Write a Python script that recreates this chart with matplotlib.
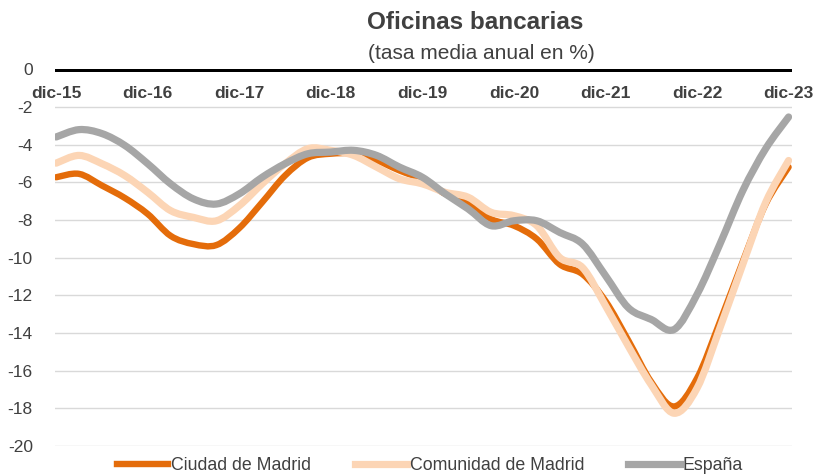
import numpy as np
import matplotlib
matplotlib.use("Agg")
import matplotlib.pyplot as plt
from matplotlib.path import Path
from matplotlib.patches import PathPatch
from matplotlib.lines import Line2D

# quarterly values, dic-15 .. dic-23
years = ["dic-15", "dic-16", "dic-17", "dic-18", "dic-19", "dic-20", "dic-21", "dic-22", "dic-23"]
ciudad = [-5.73, -5.55, -6.17, -6.83, -7.68, -8.84, -9.28, -9.33, -8.43,
          -7.06, -5.64, -4.69, -4.48, -4.48, -4.84, -5.37, -5.85,
          -6.61, -7.06, -7.95, -8.30, -9.01, -10.35, -10.88, -12.30,
          -14.40, -16.60, -17.90, -16.40, -13.40, -10.20, -7.15, -5.19]
comunidad = [-4.98, -4.57, -5.01, -5.64, -6.53, -7.50, -7.86, -8.04, -7.24,
             -6.08, -5.01, -4.21, -4.30, -4.57, -5.19, -5.81, -6.08,
             -6.53, -6.79, -7.59, -7.77, -8.30, -9.99, -10.53, -12.55,
             -14.70, -16.75, -18.26, -16.93, -13.73, -10.35, -7.06, -4.84]
espana = [-3.59, -3.20, -3.41, -4.04, -5.01, -6.08, -6.88, -7.15, -6.61,
          -5.73, -5.01, -4.48, -4.39, -4.30, -4.57, -5.19, -5.73,
          -6.61, -7.41, -8.30, -8.04, -8.04, -8.66, -9.28, -10.95,
          -12.66, -13.28, -13.81, -11.95, -9.28, -6.44, -4.21, -2.53]
names = ["Ciudad de Madrid", "Comunidad de Madrid", "España"]
colors = ["#E46C0A", "#FCD5B5", "#A6A6A6"]
widths = [4.6, 5.2, 5.2]

TXT = "#404040"
plt.rcParams['font.family'] = ['Liberation Sans', 'DejaVu Sans']


def smooth_path(x, y):
    # Excel-like smoothed line: Catmull-Rom segments as cubic Bezier
    p = np.column_stack([x, y])
    verts = [p[0]]
    codes = [Path.MOVETO]
    n = len(p)
    for i in range(n - 1):
        p0 = p[i - 1] if i > 0 else p[i]
        p3 = p[i + 2] if i + 2 < n else p[i + 1]
        c1 = p[i] + (p[i + 1] - p0) / 6.0
        c2 = p[i + 1] - (p3 - p[i]) / 6.0
        verts += [c1, c2, p[i + 1]]
        codes += [Path.CURVE4] * 3
    return Path(verts, codes)


fig = plt.figure(figsize=(8.14, 4.75), dpi=100)
ax = fig.add_axes([0.0676, 0.061, 0.9054, 0.793])

x = np.arange(len(ciudad))
for vals, c, lw in zip([ciudad, comunidad, espana], colors, widths):
    patch = PathPatch(smooth_path(x, vals), fill=False, edgecolor=c, lw=lw,
                      capstyle='round', joinstyle='round', zorder=3)
    ax.add_patch(patch)

ax.set_xlim(-0.05, 32.15)
ax.set_ylim(-20, 0)
ax.set_yticks(np.arange(-20, 1, 2))
ax.set_yticklabels([str(v) for v in range(-20, 1, 2)])
ax.yaxis.grid(True, color="#D9D9D9", lw=1.0)
ax.set_axisbelow(True)
ax.tick_params(axis='y', length=0, pad=16, labelsize=12.5, labelcolor=TXT)
for s in ax.spines.values():
    s.set_visible(False)
ax.axhline(0, color="black", lw=3.6, zorder=4)

ax.set_xticks(np.arange(0, 33, 4))
ax.set_xticklabels(years)
ax.tick_params(axis='x', bottom=False, labelbottom=False, top=False, labeltop=True,
               length=0, pad=-23, labelsize=12.5, labelcolor=TXT)
for lab in ax.get_xticklabels():
    lab.set_fontweight('bold')

fig.text(0.584, 0.952, "Oficinas bancarias", ha='center', va='center',
         fontsize=17.5, fontweight='bold', color=TXT)
fig.text(0.591, 0.888, "(tasa media anual en %)", ha='center', va='center',
         fontsize=15, color=TXT)

handles = [Line2D([], [], color=c, lw=lw) for c, lw in zip(colors, widths)]
fig.legend(handles, names, loc='center', bbox_to_anchor=(0.528, 0.019), ncol=3,
           frameon=False, fontsize=12.8, labelcolor=TXT, handlelength=2.9,
           handletextpad=0.15, columnspacing=2.5)

fig.savefig("out.png", dpi=100)
